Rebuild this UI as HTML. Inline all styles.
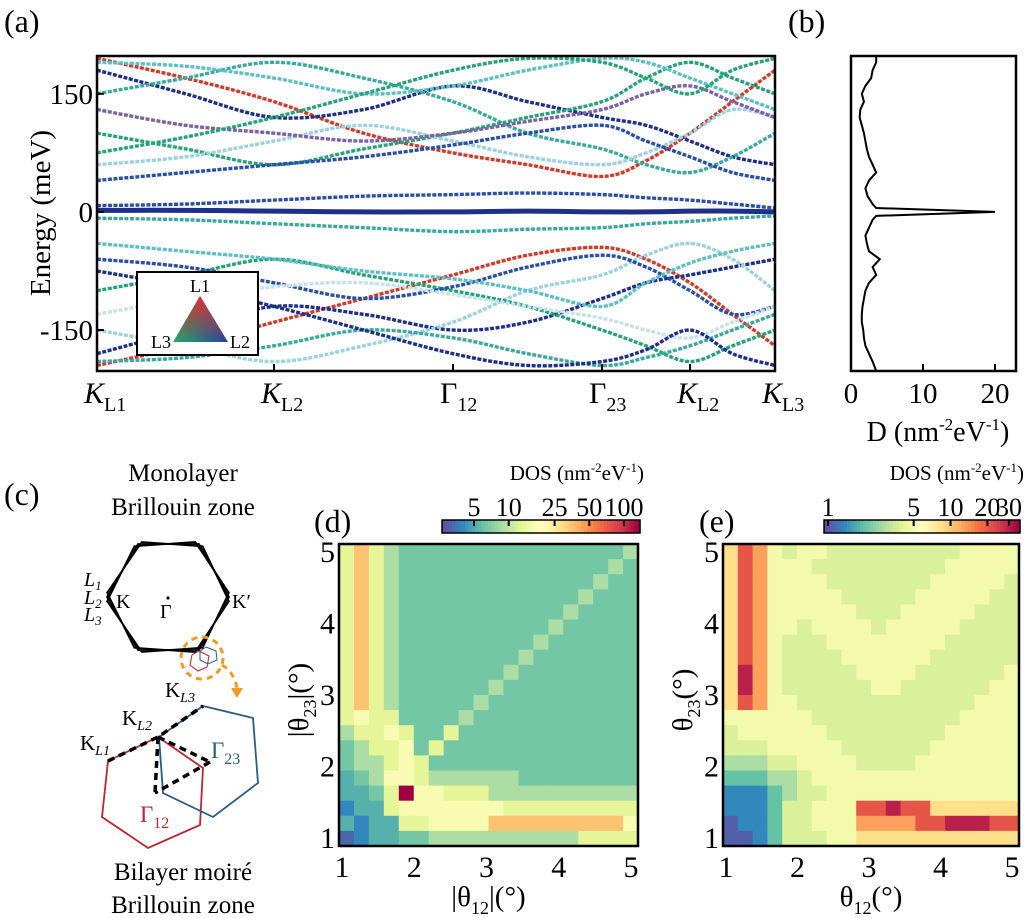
<!DOCTYPE html>
<html><head><meta charset="utf-8">
<style>
html,body{margin:0;padding:0;background:#fff;overflow:hidden;}
svg{display:block;font-family:"Liberation Serif",serif;}
</style></head>
<body>
<svg id="fig" width="1025" height="918" viewBox="0 0 1025 918">
<defs>
<linearGradient id="triA" x1="0" y1="1" x2="1" y2="1"><stop offset="0" stop-color="#1fae6a"/><stop offset="1" stop-color="#2a3f9e"/></linearGradient>
<linearGradient id="triB" x1="0" y1="0" x2="0" y2="1"><stop offset="0" stop-color="#e0302a" stop-opacity="1"/><stop offset="1" stop-color="#e0302a" stop-opacity="0"/></linearGradient>
</defs>
<text x="4" y="32" font-size="32">(a)</text>
<text x="788" y="32" font-size="32">(b)</text>
<text x="4" y="505" font-size="32">(c)</text>
<text x="314" y="532" font-size="32">(d)</text>
<text x="699" y="532" font-size="32">(e)</text>

<g id="pa"></g>
<g id="pb"></g>

<g id="pc">
<text x="183" y="481" font-size="25" text-anchor="middle">Monolayer</text>
<text x="183" y="515" font-size="25" text-anchor="middle">Brillouin zone</text>
<g fill="none" stroke="#000" stroke-width="1.8">
<polygon points="229,597 199,544 138,544 107,597 138,650 199,650" transform="rotate(-4 168 597)"/>
<polygon points="229,597 199,544 138,544 107,597 138,650 199,650"/>
<polygon points="229,597 199,544 138,544 107,597 138,650 199,650" transform="rotate(4 168 597)"/>
</g>
<text x="84" y="586" font-size="20" font-style="italic">L<tspan font-size="13" dy="4">1</tspan></text>
<text x="84" y="604" font-size="20" font-style="italic">L<tspan font-size="13" dy="4">2</tspan></text>
<text x="84" y="621" font-size="20" font-style="italic">L<tspan font-size="13" dy="4">3</tspan></text>
<text x="116" y="608" font-size="20">K</text>
<circle cx="168" cy="598" r="1.6" fill="#000"/>
<text x="160" y="618" font-size="20">Γ</text>
<text x="232" y="608" font-size="20">K′</text>
<circle cx="202" cy="658" r="21" fill="none" stroke="#f39a1e" stroke-width="3" stroke-dasharray="6 5"/>
<polygon points="199,651 209,656 207,667 198,671 190,665 192,655" fill="none" stroke="#b0223a" stroke-width="1"/>
<polygon points="206,647 216,651 217,660 208,664 200,660 200,651" fill="none" stroke="#2b5b8a" stroke-width="1"/>
<path d="M222,665 Q234,672 237,688" fill="none" stroke="#f39a1e" stroke-width="3" stroke-dasharray="6 5"/>
<polygon points="231,688 243,688 237,698" fill="#f39a1e"/>
<polygon points="108,761 158,737 203,768 200,825 148,848 102,817" fill="none" stroke="#c0242f" stroke-width="1.8"/>
<polygon points="159,737 203,706 253,718 258,783 213,817 163,793" fill="none" stroke="#2b5b8a" stroke-width="1.8"/>
<g stroke="#000" stroke-width="3.5" stroke-dasharray="7 5" fill="none">
<polyline points="108,761 158,737 203,706"/>
<line x1="158" y1="737" x2="210" y2="762"/>
<line x1="210" y1="762" x2="155" y2="793"/>
<line x1="158" y1="737" x2="155" y2="793"/>
</g>
<text x="80" y="750" font-size="21">K<tspan font-size="14" dy="5" font-style="italic">L1</tspan></text>
<text x="122" y="725" font-size="21">K<tspan font-size="14" dy="5" font-style="italic">L2</tspan></text>
<text x="165" y="697" font-size="21">K<tspan font-size="14" dy="5" font-style="italic">L3</tspan></text>
<text x="211" y="758" font-size="23" fill="#2b5b8a">Γ<tspan font-size="16" dy="6">23</tspan></text>
<text x="140" y="822" font-size="23" fill="#c0242f">Γ<tspan font-size="16" dy="6">12</tspan></text>
<text x="183" y="880" font-size="25" text-anchor="middle">Bilayer moiré</text>
<text x="183" y="913" font-size="25" text-anchor="middle">Brillouin zone</text>
</g>

<g id="pd"></g>
<g id="pe"></g>
</svg>
<script>
// ---------- data: band structure ----------
var kTickLabels = ["K","K","Γ","Γ","K","K"];
var kTickSubs = ["L1","L2","12","23","L2","L3"];
var kSamples = [0,0.5,1,1.5,2,2.5,3,3.5,4,4.5,5];
var energyTicks = [150,0,-150];
var band01 = [2,2,1,0,0,1,0,0,1,1,0];
var band02 = [8,10,15,20,22,24,22,18,15,10,5];
var band03 = [-8,-10,-15,-20,-25,-22,-20,-15,-12,-8,-5];
var band04 = [195,170,140,100,75,60,45,65,100,140,180];
var band05 = [180,150,120,130,160,140,120,110,90,70,60];
var band06 = [150,170,190,170,140,100,80,60,50,70,100];
var band07 = [100,80,60,80,100,120,140,170,190,170,150];
var band08 = [60,70,90,110,90,70,60,75,100,130,120];
var band09 = [40,50,60,70,85,100,110,90,70,50,40];
var band10 = [130,110,100,90,100,115,130,150,160,140,120];
var band11 = [190,185,170,150,160,180,195,190,170,150,130];
var band12 = [75,95,120,150,180,195,190,170,150,180,195];
var band13 = [-195,-170,-140,-110,-80,-55,-45,-60,-90,-130,-170];
var band14 = [-180,-150,-120,-130,-150,-140,-110,-90,-80,-70,-60];
var band15 = [-150,-170,-190,-170,-140,-100,-80,-55,-40,-60,-100];
var band16 = [-100,-80,-60,-80,-100,-120,-150,-170,-190,-170,-150];
var band17 = [-60,-70,-90,-110,-95,-70,-55,-70,-100,-130,-120];
var band18 = [-40,-50,-60,-75,-85,-100,-120,-90,-65,-50,-40];
var band19 = [-130,-110,-95,-90,-105,-120,-135,-150,-160,-140,-120];
var band20 = [-190,-185,-170,-150,-160,-180,-195,-185,-170,-150,-130];
var band21 = [-75,-95,-120,-150,-180,-195,-190,-175,-150,-180,-195];
var bands = [band01,band02,band03,band04,band05,band06,band07,band08,band09,band10,band11,band12,band13,band14,band15,band16,band17,band18,band19,band20,band21];
var bandColors = ["#1d2f8a","#2a4fa8","#3aa9a0","#d23a2a","#1d2f8a","#3aa9a0","#27a37a","#9bd3e0","#2a4fa8","#7b62a8","#5dc0c6","#27a37a","#d23a2a","#1d2f8a","#9bd3e0","#27a37a","#2a4fa8","#5dc0c6","#c7e3ea","#3aa9a0","#1d2f8a"];

// ---------- data: DOS ----------
var dosEnergy = [-202,-190,-180,-170,-160,-150,-140,-130,-120,-110,-100,-90,-80,-70,-60,-50,-40,-30,-20,-10,-5,0,5,10,20,30,40,50,60,70,80,90,100,110,120,130,140,150,160,170,180,190,198];
var dosValue = [3.5,3,2.5,2,1.8,1.7,1.5,1.5,1.6,1.8,2,2.5,3.5,3,4,2.5,2.2,2,2.5,3,3.5,20,3.5,3,2.3,2,2.5,3.5,3,2.5,2.2,2,1.8,1.5,1.2,1.3,1.8,1.5,2,2.8,3,3.5,3.5];
var dosTicks = [0,10,20];

// ---------- data: heatmaps (level 0-9 per cell, rows top θ23=5 → bottom θ23=1) ----------
var mapDRows = [
"57543333333333333334","57543333333333333343","57543333333333333433","57543333333333334333",
"57543333333333343333","57543333333333433333","57543333333334333333","57543333333343333333",
"57543333333433333333","57543333334333333333","57543333343333333333","56553333433333333333",
"45565335333333333333","34556353333333333333","34456533333333333333","23466544444433333333",
"22359665554444444444","12256666666555555555","21225566667777777776","01223344444444445555"];
var mapERows = [
"68754554444444445555","68755544444444455555","68755554444444555554","68755555444445555544",
"68755555544455555444","68755455554555554444","68754445555555544444","68754444555555444444",
"69754444455554444445","69754444445544444455","68755444444444444555","55555544444444445555",
"45555554444444455555","44455555444444555555","33344555544445555555","22233455555555555555",
"11123445555555555555","11124455588988666666","01124455577778899988","00124445566666666666"];
var mapDLevelT = [0.04,0.1,0.17,0.22,0.3,0.4,0.47,0.66,0.78,1.0];
var mapELevelT = [0.03,0.1,0.2,0.3,0.38,0.45,0.6,0.72,0.85,0.95];
var mapAxisTicks = [1,2,3,4,5];
var cbarDTicks = [5,10,25,50,100];
var cbarETicks = [1,5,10,20,30];

// ---------- helpers ----------
var NS="http://www.w3.org/2000/svg";
function mk(tag,attrs,parent){var e=document.createElementNS(NS,tag);for(var k in attrs)e.setAttribute(k,attrs[k]);parent.appendChild(e);return e;}
var stops=[[0,"#5e4fa2"],[0.1,"#3288bd"],[0.2,"#66c2a5"],[0.3,"#abdda4"],[0.4,"#e6f598"],[0.5,"#ffffbf"],[0.6,"#fee08b"],[0.7,"#fdae61"],[0.8,"#f46d43"],[0.9,"#d53e4f"],[1,"#9e0142"]];
function hx(h){return [parseInt(h.substr(1,2),16),parseInt(h.substr(3,2),16),parseInt(h.substr(5,2),16)];}
function cmap(t){t=Math.max(0,Math.min(1,t));for(var i=0;i<stops.length-1;i++){if(t<=stops[i+1][0]){var f=(t-stops[i][0])/(stops[i+1][0]-stops[i][0]);var a=hx(stops[i][1]),b=hx(stops[i+1][1]);return "rgb("+Math.round(a[0]+(b[0]-a[0])*f)+","+Math.round(a[1]+(b[1]-a[1])*f)+","+Math.round(a[2]+(b[2]-a[2])*f)+")";}}return stops[stops.length-1][1];}

// ---------- panel a ----------
var pa=document.getElementById("pa");
var AX0=97,AX1=775,AY0=56,AY1=371,EMIN=-202,EMAX=198;
var kPix=[97,274,453,602,690,775];
function kx(k){var i=Math.min(4,Math.floor(k));return kPix[i]+(kPix[i+1]-kPix[i])*(k-i);}
function ey(e){return AY1-(e-EMIN)/(EMAX-EMIN)*(AY1-AY0);}
var clip=mk("clipPath",{id:"clipA"},pa);mk("rect",{x:AX0,y:AY0,width:AX1-AX0,height:AY1-AY0},clip);
var bg=mk("g",{"clip-path":"url(#clipA)"},pa);
bands.forEach(function(b,bi){
  var pts=kSamples.map(function(k,i){return [kx(k),ey(b[i])];});
  var d="M"+pts[0][0]+","+pts[0][1];
  for(var i=0;i<pts.length-1;i++){var p0=pts[Math.max(0,i-1)],p1=pts[i],p2=pts[i+1],p3=pts[Math.min(pts.length-1,i+2)];
    d+=" C"+(p1[0]+(p2[0]-p0[0])/6)+","+(p1[1]+(p2[1]-p0[1])/6)+" "+(p2[0]-(p3[0]-p1[0])/6)+","+(p2[1]-(p3[1]-p1[1])/6)+" "+p2[0]+","+p2[1];}
  var el=mk("path",{d:d,fill:"none",stroke:bandColors[bi],"stroke-width":bi==0?5:3.4,"stroke-dasharray":bi==0?"none":"4 1.5"},bg);
  
  
});
var fr=mk("rect",{x:AX0,y:AY0,width:AX1-AX0,height:AY1-AY0,fill:"none",stroke:"#000","stroke-width":2.5},pa);


energyTicks.forEach(function(e){
  var y=ey(e);mk("line",{x1:AX0,x2:AX0+7,y1:y,y2:y,stroke:"#000","stroke-width":2},pa);
  var t=mk("text",{x:AX0-4,y:y+10,"font-size":29,"text-anchor":"end"},pa);t.textContent=e;
  
  
});
var yt=mk("text",{x:50,y:213,"font-size":29,"text-anchor":"middle",transform:"rotate(-90 50 213)"},pa);yt.textContent="Energy (meV)";


kTickLabels.forEach(function(l,i){
  var x=kPix[i];
  if(i>0&&i<5)mk("line",{x1:x,x2:x,y1:AY1,y2:AY1-7,stroke:"#000","stroke-width":2},pa);
  var t=mk("text",{x:x-13,y:403,"font-size":30,"font-style":l=="K"?"italic":"normal"},pa);
  t.textContent=l;
  var s=mk("tspan",{"font-size":20,dy:8,"font-style":"normal"},t);s.textContent=kTickSubs[i];
  
  
});
var lg=mk("g",{},pa);


mk("rect",{x:137,y:272,width:121,height:83,fill:"#fff",stroke:"#000","stroke-width":2},lg);
mk("polygon",{points:"200,296 173,342 228,342",fill:"url(#triA)"},lg);
mk("polygon",{points:"200,296 173,342 228,342",fill:"url(#triB)"},lg);
var l1=mk("text",{x:200,y:292,"font-size":18,"text-anchor":"middle"},lg);l1.textContent="L1";
var l3=mk("text",{x:171,y:348,"font-size":18,"text-anchor":"end"},lg);l3.textContent="L3";
var l2=mk("text",{x:230,y:348,"font-size":18},lg);l2.textContent="L2";

// ---------- panel b ----------
var pb=document.getElementById("pb");
var BX0=851,BX1=1016,BY0=56,BY1=371,DX=7.2;
function dx(v){return BX0+v*DX;}
var pts=dosEnergy.map(function(e,i){return dx(dosValue[i])+","+ey(e);});
var pl=mk("polyline",{points:pts.join(" "),fill:"none",stroke:"#000","stroke-width":2},pb);


var fb=mk("rect",{x:BX0,y:BY0,width:BX1-BX0,height:BY1-BY0,fill:"none",stroke:"#000","stroke-width":2.5},pb);


dosTicks.forEach(function(v){var x=dx(v);mk("line",{x1:x,x2:x,y1:BY1,y2:BY1-7,stroke:"#000","stroke-width":2},pb);
  var t=mk("text",{x:x,y:403,"font-size":29,"text-anchor":"middle"},pb);t.textContent=v;
  
  });
var bt=mk("text",{x:938,y:441,"font-size":28,"text-anchor":"middle"},pb);


bt.innerHTML='D (nm<tspan font-size="17" dy="-11">-2</tspan><tspan dy="11">eV</tspan><tspan font-size="17" dy="-11">-1</tspan><tspan dy="11">)</tspan>';

// ---------- heatmaps ----------
function heatmap(gid,rows,levelT,x0,x1,y0,y1,cbx0,cbx1,cbTicks,cbTickX,absLab){
  var g=document.getElementById(gid);
  var nr=rows.length,nc=rows[0].length,cw=(x1-x0)/nc,ch=(y1-y0)/nr;
  rows.forEach(function(r,ri){for(var ci=0;ci<nc;ci++){
    var c=mk("rect",{x:x0+ci*cw,y:y0+ri*ch,width:cw+0.6,height:ch+0.6,fill:cmap(levelT[+r[ci]])},g);
    
    
  }});
  var f=mk("rect",{x:x0,y:y0,width:x1-x0,height:y1-y0,fill:"none",stroke:"#000","stroke-width":2.5},g);
  
  
  mapAxisTicks.forEach(function(v){
    var x=x0+3+(v-1)/4*(x1-x0-10),y=y1-8-(v-1)/4*(y1-y0-16);
    var tx=mk("text",{x:x,y:y1+31,"font-size":30,"text-anchor":"middle"},g);tx.textContent=v;
    
    
    var ty=mk("text",{x:x0-4,y:y+10,"font-size":30,"text-anchor":"end"},g);ty.textContent=v;
    
    
  });
  var xt=mk("text",{x:(x0+x1)/2,y:y1+60,"font-size":29,"text-anchor":"middle"},g);
  xt.innerHTML=(absLab?'|θ<tspan font-size="18" dy="8">12</tspan><tspan dy="-8">|(°)</tspan>':'θ<tspan font-size="18" dy="8">12</tspan><tspan dy="-8">(°)</tspan>');
  
  
  var yc=(y0+y1)/2+5,yx=x0-31;
  var ytt=mk("text",{x:yx,y:yc,"font-size":29,"text-anchor":"middle",transform:"rotate(-90 "+yx+" "+yc+")"},g);
  ytt.innerHTML=(absLab?'|θ<tspan font-size="18" dy="8">23</tspan><tspan dy="-8">|(°)</tspan>':'θ<tspan font-size="18" dy="8">23</tspan><tspan dy="-8">(°)</tspan>');
  
  
  var n=60,w=(cbx1-cbx0)/n;
  for(var i=0;i<n;i++){mk("rect",{x:cbx0+i*w,y:520,width:w+0.6,height:13,fill:cmap(i/(n-1))},g);}
  var cf=mk("rect",{x:cbx0,y:520,width:cbx1-cbx0,height:13,fill:"none",stroke:"#000","stroke-width":1.5},g);
  
  
  cbTicks.forEach(function(v,i){var x=cbTickX(v);
    mk("line",{x1:x,x2:x,y1:520,y2:526,stroke:"#000","stroke-width":2},g);
    var t=mk("text",{x:x,y:516,"font-size":26,"text-anchor":"middle"},g);t.textContent=v;
    
    });
  var ct=mk("text",{x:cbx1+4,y:480,"font-size":21,"text-anchor":"end"},g);
  ct.innerHTML='DOS (nm<tspan font-size="13" dy="-8">-2</tspan><tspan dy="8">eV</tspan><tspan font-size="13" dy="-8">-1</tspan><tspan dy="8">)</tspan>';
  
  
}
heatmap("pd",mapDRows,mapDLevelT,339,638,544,846,442,640,cbarDTicks,function(v){return 474+(Math.log(v)-Math.log(5))/(Math.log(100)-Math.log(5))*(624-474);},true);
heatmap("pe",mapERows,mapELevelT,723,1019,544,846,824,1020,cbarETicks,function(v){return 828+(Math.log(v))/(Math.log(30))*(1009-828);},false);
</script>
</body></html>
